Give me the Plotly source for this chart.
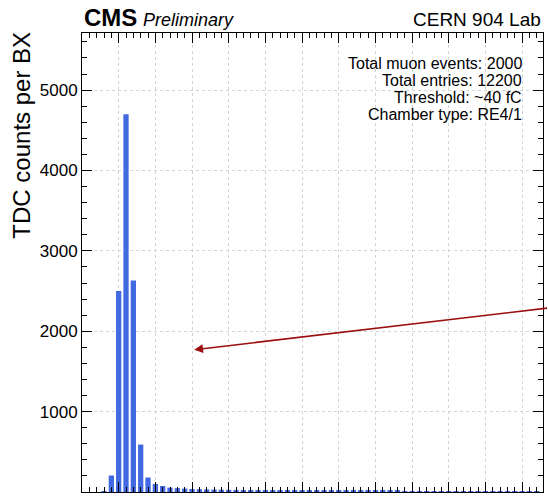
import plotly.graph_objects as go

# TDC time bins (one bin per BX) and counts per bin
bx_bins = list(range(0, 63))
tdc_counts = [
    0, 0, 0, 3, 205, 2500, 4700, 2630, 590, 180,
    100, 75, 55, 48, 42, 38, 35, 32, 30, 28,
    27, 26, 25, 24, 23, 22, 21, 20, 20, 19,
    18, 18, 17, 17, 16, 16, 15, 15, 14, 14,
    14, 13, 13, 13, 12, 12, 12, 11, 11, 11,
    10, 10, 10, 10, 9, 9, 9, 9, 8, 8,
    8, 8, 7,
]

info_lines = [
    "Total muon events: 2000",
    "Total entries: 12200",
    "Threshold: ~40 fC",
    "Chamber type: RE4/1",
]

x_range = [0, 62.85]
y_range = [0, 5710]

FONT = "Liberation Sans, Arial, Helvetica, sans-serif"

fig = go.Figure(
    go.Bar(
        x=bx_bins,
        y=tdc_counts,
        marker=dict(color="#4169E1", line=dict(width=0)),
        width=0.72,
        hoverinfo="x+y",
    )
)

axis_common = dict(
    showline=True,
    linecolor="black",
    mirror="ticks",
    ticks="inside",
    tickcolor="black",
    ticklen=10,
    showgrid=True,
    gridcolor="#d4d4d4",
    griddash="dot",
    gridwidth=1,
    zeroline=False,
    tickfont=dict(family=FONT, size=17, color="black"),
)

fig.update_xaxes(
    range=x_range,
    tick0=0,
    dtick=5,
    minor=dict(dtick=1, ticks="inside", ticklen=5, tickcolor="black",
               showgrid=False),
    automargin=False,
    **axis_common,
)
fig.update_yaxes(
    range=y_range,
    tick0=0,
    dtick=1000,
    minor=dict(dtick=200, ticks="inside", ticklen=5, tickcolor="black",
               showgrid=False),
    **axis_common,
)

annotations = [
    dict(text="<b>CMS</b>", x=0.0, y=1.0, xref="paper", yref="paper",
         xanchor="left", yanchor="bottom", yshift=0, showarrow=False,
         font=dict(family=FONT, size=24, color="black")),
    dict(text="<i>Preliminary</i>", x=0.0, y=1.0, xref="paper", yref="paper",
         xanchor="left", yanchor="bottom", xshift=59, yshift=1, showarrow=False,
         font=dict(family=FONT, size=18, color="black")),
    dict(text="CERN 904 Lab", x=1.0, y=1.0, xref="paper", yref="paper",
         xanchor="right", yanchor="bottom", yshift=1, showarrow=False,
         font=dict(family=FONT, size=19, color="black")),
    dict(text="TDC counts per BX", x=-0.132, y=1.0, xref="paper", yref="paper",
         xanchor="center", yanchor="top", yshift=3, textangle=-90,
         showarrow=False, font=dict(family=FONT, size=24, color="black")),
]

for i, line in enumerate(info_lines):
    annotations.append(
        dict(text=line, x=1.0, y=1.0, xref="paper", yref="paper",
             xanchor="right", yanchor="middle", xshift=-19, yshift=-30 - 17 * i,
             showarrow=False, font=dict(family=FONT, size=16, color="black"))
    )

# Arrow pointing into the plot from the right edge
annotations.append(
    dict(x=15.3, y=1770, xref="x", yref="y",
         ax=63.6, ay=2290, axref="x", ayref="y",
         showarrow=True, arrowhead=2, arrowsize=1.1, arrowwidth=1.6,
         arrowcolor="#9b0f0f", text="")
)

fig.update_layout(
    width=548,
    height=498,
    margin=dict(l=82, r=5, t=33, b=6),
    plot_bgcolor="white",
    paper_bgcolor="white",
    showlegend=False,
    bargap=0.28,
    annotations=annotations,
    font=dict(family=FONT),
)

fig.write_html("out.html")
